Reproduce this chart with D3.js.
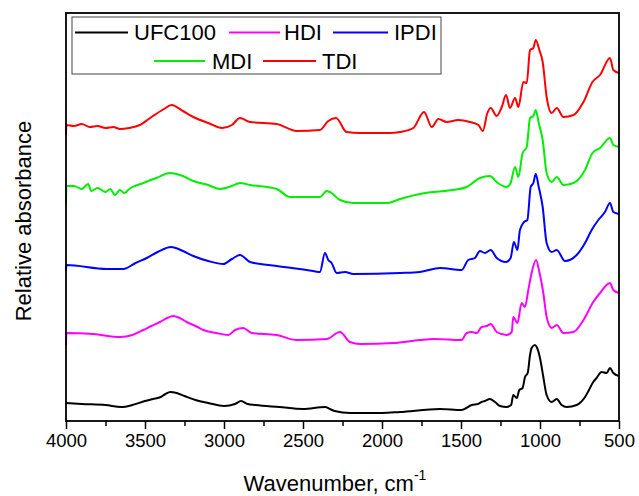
<!DOCTYPE html>
<html>
<head>
<meta charset="utf-8">
<script src="https://cdn.jsdelivr.net/npm/d3@7/dist/d3.min.js"></script>
<style>
  html, body { margin: 0; padding: 0; background: #fff; }
  svg { display: block; font-family: "Liberation Sans", Arial, sans-serif; }
</style>
</head>
<body>
<svg id="chart" width="639" height="496"></svg>
<script>
// ---------- DATA (wavenumber cm^-1, relative absorbance, offset-stacked) ----------
const seriesNames = ["UFC100", "HDI", "IPDI", "MDI", "TDI"];
const seriesColors = ["#000000", "#ff00ff", "#0000ff", "#00ee00", "#ff0000"];
const majorTicks = [4000, 3500, 3000, 2500, 2000, 1500, 1000, 500];
const minorTicks = [3750, 3250, 2750, 2250, 1750, 1250, 750];

const ufc100 = [[4000,0.18],[3900,0.17],[3750,0.16],[3650,0.14],[3580,0.16],[3500,0.20],[3450,0.22],[3400,0.24],[3370,0.27],[3340,0.29],[3300,0.28],[3250,0.25],[3180,0.21],[3100,0.18],[3000,0.15],[2930,0.17],[2892,0.20],[2850,0.17],[2800,0.16],[2650,0.14],[2500,0.12],[2360,0.14],[2330,0.12],[2300,0.10],[2200,0.08],[2000,0.08],[1886,0.09],[1633,0.12],[1496,0.11],[1432,0.16],[1392,0.17],[1370,0.19],[1349,0.20],[1317,0.22],[1285,0.19],[1253,0.15],[1211,0.14],[1183,0.16],[1169,0.26],[1147,0.23],[1131,0.31],[1110,0.33],[1095,0.44],[1078,0.48],[1063,0.66],[1053,0.73],[1032,0.76],[1021,0.74],[1000,0.63],[979,0.44],[958,0.26],[926,0.19],[894,0.22],[863,0.16],[831,0.14],[768,0.16],[715,0.24],[690,0.31],[663,0.39],[642,0.43],[610,0.49],[578,0.48],[557,0.53],[536,0.48],[500,0.45]];

const hdi = [[4000,0.76],[3998,0.88],[3827,0.87],[3658,0.84],[3580,0.86],[3511,0.91],[3460,0.95],[3405,0.99],[3360,1.03],[3321,1.05],[3280,1.03],[3236,0.99],[3180,0.95],[3131,0.91],[3050,0.88],[2973,0.86],[2930,0.91],[2878,0.93],[2825,0.88],[2667,0.86],[2540,0.81],[2350,0.82],[2266,0.89],[2203,0.79],[2139,0.77],[1928,0.78],[1760,0.81],[1675,0.82],[1496,0.81],[1464,0.88],[1432,0.89],[1401,0.88],[1369,0.94],[1337,0.95],[1312,0.97],[1274,0.89],[1211,0.86],[1179,0.89],[1169,1.04],[1143,0.98],[1116,1.18],[1095,1.14],[1074,1.31],[1053,1.48],[1025,1.61],[1004,1.49],[979,1.28],[958,1.04],[926,0.93],[894,0.96],[852,0.88],[788,0.89],[725,1.01],[663,1.19],[620,1.28],[557,1.38],[536,1.31],[500,1.28]];

const ipdi = [[4000,1.50],[3998,1.56],[3742,1.52],[3637,1.52],[3560,1.58],[3489,1.63],[3420,1.69],[3335,1.74],[3260,1.70],[3194,1.65],[3100,1.60],[3004,1.57],[2950,1.62],[2899,1.66],[2835,1.59],[2667,1.55],[2435,1.50],[2393,1.49],[2361,1.68],[2340,1.61],[2319,1.58],[2287,1.48],[2234,1.49],[2182,1.47],[1886,1.48],[1760,1.49],[1633,1.53],[1496,1.51],[1454,1.61],[1412,1.63],[1380,1.70],[1349,1.68],[1312,1.71],[1274,1.63],[1215,1.59],[1186,1.63],[1165,1.79],[1143,1.71],[1127,1.91],[1101,1.99],[1080,2.01],[1059,2.34],[1042,2.38],[1027,2.47],[1008,2.34],[983,2.14],[958,1.78],[926,1.69],[894,1.71],[842,1.60],[768,1.66],[715,1.78],[673,1.91],[631,2.01],[589,2.09],[557,2.18],[536,2.09],[500,2.07]];

const mdi = [[4000,2.16],[3998,2.35],[3950,2.35],[3900,2.32],[3860,2.37],[3840,2.30],[3800,2.33],[3750,2.29],[3720,2.32],[3690,2.26],[3660,2.31],[3630,2.28],[3600,2.32],[3511,2.38],[3430,2.43],[3342,2.48],[3260,2.45],[3194,2.40],[3100,2.36],[3025,2.32],[2950,2.35],[2899,2.38],[2835,2.36],[2667,2.32],[2582,2.24],[2393,2.24],[2350,2.30],[2319,2.28],[2266,2.21],[2182,2.18],[1970,2.18],[1886,2.22],[1760,2.27],[1675,2.29],[1551,2.31],[1464,2.34],[1380,2.43],[1317,2.45],[1274,2.39],[1211,2.34],[1186,2.38],[1158,2.54],[1137,2.44],[1110,2.68],[1084,2.74],[1063,3.03],[1042,3.05],[1027,3.11],[1008,2.98],[983,2.81],[958,2.48],[926,2.39],[894,2.44],[852,2.36],[788,2.38],[715,2.51],[668,2.68],[620,2.73],[557,2.83],[536,2.76],[500,2.74]];

const tdi = [[4000,2.86],[3998,2.96],[3950,2.95],[3900,2.97],[3850,2.94],[3800,2.95],[3750,2.93],[3700,2.94],[3658,2.92],[3600,2.93],[3532,2.96],[3450,3.05],[3380,3.12],[3332,3.16],[3260,3.10],[3194,3.04],[3100,2.98],[3011,2.93],[2950,2.96],[2899,3.03],[2835,2.99],[2667,2.97],[2540,2.90],[2393,2.91],[2340,3.00],[2291,3.03],[2224,2.89],[2139,2.88],[1949,2.88],[1886,2.89],[1802,2.93],[1734,3.09],[1685,2.94],[1643,3.02],[1590,2.99],[1517,3.01],[1443,2.99],[1390,2.96],[1362,2.90],[1333,3.08],[1312,3.13],[1274,3.05],[1242,3.14],[1215,3.26],[1190,3.13],[1158,3.23],[1137,3.14],[1105,3.39],[1084,3.38],[1063,3.71],[1042,3.73],[1027,3.81],[1004,3.71],[983,3.59],[958,3.24],[926,3.08],[894,3.13],[852,3.04],[788,3.06],[725,3.19],[668,3.39],[620,3.46],[557,3.63],[536,3.51],[500,3.48]];

const seriesData = [ufc100, hdi, ipdi, mdi, tdi];

// ---------- LAYOUT ----------
const W = 639, H = 496;
const margin = { left: 66, top: 13, right: 20, bottom: 75 };
const svg = d3.select("#chart");
const x = d3.scaleLinear().domain([4000, 500]).range([margin.left, W - margin.right]);
const y = d3.scaleLinear().domain([0, 4.08]).range([H - margin.bottom, margin.top]);

// lines
const line = d3.line().curve(d3.curveMonotoneX).x(d => x(d[0])).y(d => y(d[1]));
const plot = svg.append("g");
seriesData.forEach((data, i) => {
  plot.append("path")
    .datum(data)
    .attr("fill", "none")
    .attr("stroke", seriesColors[i])
    .attr("stroke-width", 2)
    .attr("stroke-linejoin", "round")
    .attr("d", line);
});

// axes
const xAxis = d3.axisBottom(x).tickValues(majorTicks).tickSize(8).tickPadding(5)
  .tickFormat(d3.format("d"));
const gx = svg.append("g").attr("transform", `translate(0,${H - margin.bottom})`).call(xAxis);
gx.select(".domain").remove();
gx.selectAll(".tick line").attr("stroke", "#000").attr("stroke-width", 1.5);
gx.selectAll(".tick text").attr("font-size", 18.5).attr("fill", "#000")
  .attr("font-family", "'Liberation Sans', Arial, sans-serif");

const gMinor = svg.append("g").attr("transform", `translate(0,${H - margin.bottom})`)
  .call(d3.axisBottom(x).tickValues(minorTicks).tickSize(5).tickFormat(""));
gMinor.select(".domain").remove();
gMinor.selectAll(".tick line").attr("stroke", "#000").attr("stroke-width", 1.5);

// frame
svg.append("rect")
  .attr("x", margin.left).attr("y", margin.top)
  .attr("width", W - margin.left - margin.right)
  .attr("height", H - margin.top - margin.bottom)
  .attr("fill", "none").attr("stroke", "#000").attr("stroke-width", 1.8);

// axis titles
const xt = svg.append("text")
  .attr("x", 335).attr("y", 491)
  .attr("text-anchor", "middle").attr("font-size", 22).attr("fill", "#000");
xt.append("tspan").text("Wavenumber, cm");
xt.append("tspan").attr("dy", -11).attr("font-size", 14).text("-1");

svg.append("text")
  .attr("transform", `translate(31,221) rotate(-90)`)
  .attr("text-anchor", "middle").attr("font-size", 22).attr("fill", "#000")
  .text("Relative absorbance");

// legend
const legend = svg.append("g");
legend.append("rect").attr("x", 72).attr("y", 17).attr("width", 369).attr("height", 57)
  .attr("fill", "#fff").attr("stroke", "#444").attr("stroke-width", 1);
const legendPos = [
  { x1: 75, x2: 128, tx: 134, ty: 32.5 },
  { x1: 229, x2: 280, tx: 284, ty: 32.5 },
  { x1: 333, x2: 388, tx: 394, ty: 32.5 },
  { x1: 154, x2: 205, tx: 212, ty: 61 },
  { x1: 263, x2: 316, tx: 322, ty: 61 }
];
seriesNames.forEach((name, i) => {
  const p = legendPos[i];
  legend.append("line").attr("x1", p.x1).attr("x2", p.x2).attr("y1", p.ty).attr("y2", p.ty)
    .attr("stroke", seriesColors[i]).attr("stroke-width", 1.8);
  legend.append("text").attr("x", p.tx).attr("y", p.ty + 7.8)
    .attr("font-size", 22).attr("fill", "#000").text(name);
});
</script>
</body>
</html>
